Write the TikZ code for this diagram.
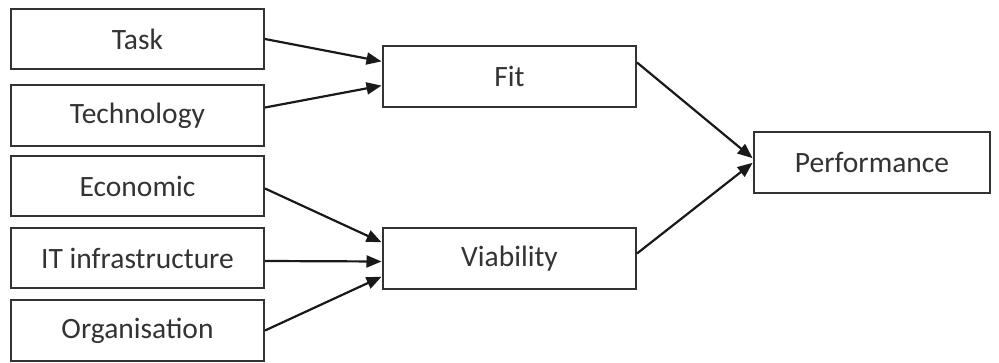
\documentclass[tikz,border=0pt]{standalone}
\usepackage{fontspec}
\setmainfont{Carlito}
\usetikzlibrary{arrows.meta}
\begin{document}
\begin{tikzpicture}[x=1pt,y=-1pt,
  box/.style={draw=black!80, line width=2pt, fill=white, text=black!80,
    minimum height=60pt, inner sep=0pt,
    font=\fontsize{29.5}{35}\selectfont},
  src/.style={box, minimum width=253pt},
  mid/.style={box, minimum width=253pt, minimum height=61pt},
  link/.style={draw=black!90, line width=2.2pt,
    -{Triangle[length=15pt,width=12pt]}, shorten >=0.5pt}]
  \useasboundingbox (0,0) rectangle (999,363);

  % input factors
  \node[src] (task) at (137.5,39) {Task};
  \node[src, minimum height=61pt] (tech) at (137.5,115.5) {Technology};
  \node[src] (econ) at (137.5,186.5) {Economic};
  \node[src] (infra) at (137.5,258) {IT infrastructure};
  \node[src, minimum height=61pt] (org) at (137.5,330.5) {Organisation};

  % intermediate constructs
  \node[mid] (fit) at (509.5,76.5) {Fit};
  \node[mid] (viab) at (509.5,258.5) {Viability};

  % outcome
  \node[box, minimum width=236pt, minimum height=61pt] (perf) at (872,162.5) {Performance};

  % connectors
  \draw[link] (task.east) -- ([yshift=15pt]fit.west);
  \draw[link] ([yshift=8pt]tech.east) -- ([yshift=-9pt]fit.west);
  \draw[link] ([yshift=-2pt]econ.east) -- ([yshift=16pt]viab.west);
  \draw[link] ([yshift=-3pt]infra.east) -- ([yshift=-3pt]viab.west);
  \draw[link] (org.east) -- ([yshift=-18pt]viab.west);
  \draw[link] ([yshift=14pt]fit.east) -- ([yshift=4pt]perf.west);
  \draw[link] ([yshift=5pt]viab.east) -- ([yshift=0pt]perf.west);
\end{tikzpicture}
\end{document}
